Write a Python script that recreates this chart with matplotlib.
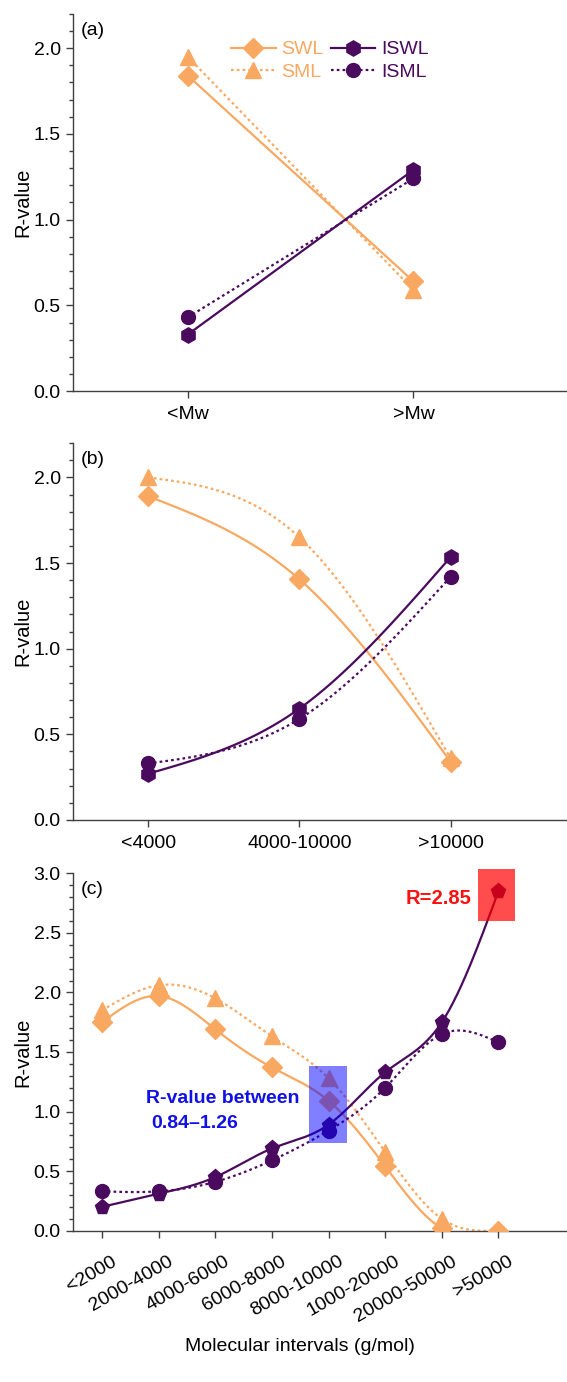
import numpy as np
import matplotlib
matplotlib.use("Agg")
from matplotlib import pyplot as plt
from matplotlib.patches import Rectangle
from matplotlib.transforms import ScaledTranslation

plt.rcParams['font.family'] = ['Liberation Sans', 'DejaVu Sans']

ORANGE = '#F9A862'
PURPLE = '#4A0A5E'

# (a) below / above Mw
cats_a = ['<Mw', '>Mw']
swl_a = [1.84, 0.64]
sml_a = [1.95, 0.59]
iswl_a = [0.33, 1.29]
isml_a = [0.43, 1.24]

# (b) three intervals
cats_b = ['<4000', '4000-10000', '>10000']
swl_b = [1.89, 1.405, 0.34]
sml_b = [2.00, 1.65, 0.36]
iswl_b = [0.27, 0.65, 1.535]
isml_b = [0.33, 0.59, 1.42]

# (c) eight intervals
cats_c = ['<2000', '2000-4000', '4000-6000', '6000-8000', '8000-10000',
          '1000-20000', '20000-50000', '>50000']
swl_c = [1.75, 1.97, 1.69, 1.37, 1.09, 0.54, 0.02, 0.0]
sml_c = [1.85, 2.06, 1.95, 1.63, 1.28, 0.66, 0.10, 0.0]
iswl_c = [0.20, 0.31, 0.45, 0.69, 0.89, 1.33, 1.75, 2.85]
isml_c = [0.33, 0.33, 0.41, 0.59, 0.84, 1.20, 1.65, 1.58]


def spline(y, n=60):
    # natural cubic spline through equally spaced points, for the drawn line only
    y = np.asarray(y, float)
    k = len(y)
    x = np.arange(k)
    if k < 3:
        return x.astype(float), y
    A = np.zeros((k, k))
    r = np.zeros(k)
    A[0, 0] = A[-1, -1] = 1
    for i in range(1, k - 1):
        A[i, i - 1:i + 2] = [1, 4, 1]
        r[i] = 6 * (y[i + 1] - 2 * y[i] + y[i - 1])
    m = np.linalg.solve(A, r)
    xs, ys = [], []
    for i in range(k - 1):
        t = np.linspace(0, 1, n)
        a = 1 - t
        s = a * y[i] + t * y[i + 1] + ((a ** 3 - a) * m[i] + (t ** 3 - t) * m[i + 1]) / 6
        xs.append(i + t)
        ys.append(s)
    return np.concatenate(xs), np.concatenate(ys)


def series(ax, vals, color, ls, marker, ms, label=None, smooth=True):
    x = np.arange(len(vals))
    if smooth:
        sx, sy = spline(vals)
    else:
        sx, sy = x, vals
    dash = (0, (1.2, 1.4)) if ls == ':' else '-'
    ax.plot(sx, sy, color=color, lw=1.6, ls=dash, zorder=2)
    ax.plot(x, vals, ls='none', marker=marker, ms=ms, color=color, zorder=3)
    if label:
        ax.plot([], [], color=color, lw=1.6, ls=dash, marker=marker, ms=ms, label=label)


def style(ax, ymax, cats, letter):
    for s in ['top', 'right']:
        ax.spines[s].set_visible(False)
    for s in ['left', 'bottom']:
        ax.spines[s].set_color('#404040')
        ax.spines[s].set_linewidth(1.0)
    ax.set_ylim(0, ymax)
    ax.set_yticks(np.arange(0, ymax + 0.01, 0.5))
    ax.set_yticks(np.arange(0, ymax + 0.01, 0.1), minor=True)
    ax.yaxis.set_major_formatter(matplotlib.ticker.FormatStrFormatter('%.1f'))
    ax.set_xticks(np.arange(len(cats)))
    ax.tick_params(axis='both', which='major', direction='out', length=5,
                   width=1, color='#404040', labelsize=14)
    ax.tick_params(axis='x', pad=6)
    ax.tick_params(axis='y', which='minor', direction='out', length=3,
                   width=1, color='#404040')
    ax.set_ylabel('R-value', fontsize=14.5)
    ax.yaxis.set_label_coords(-0.082, 0.5)
    ax.text(0.016, 0.957 if ymax < 3 else 0.955, '(%s)' % letter,
            transform=ax.transAxes, fontsize=14, va='center')


fig = plt.figure(figsize=(5.67, 13.82), dpi=100)
ax1 = fig.add_axes([0.128, 0.717, 0.872, 0.273])
ax2 = fig.add_axes([0.128, 0.4067, 0.872, 0.2726])
ax3 = fig.add_axes([0.128, 0.1095, 0.872, 0.2586])

# (a)
series(ax1, swl_a, ORANGE, '-', 'D', 10, 'SWL', smooth=False)
series(ax1, sml_a, ORANGE, ':', '^', 11, 'SML', smooth=False)
series(ax1, iswl_a, PURPLE, '-', 'h', 11, 'ISWL', smooth=False)
series(ax1, isml_a, PURPLE, ':', 'o', 10, 'ISML', smooth=False)
style(ax1, 2.2, cats_a, 'a')
ax1.set_xlim(-0.51, 1.68)
ax1.set_xticklabels(cats_a)
leg = ax1.legend(ncol=2, loc='upper left', bbox_to_anchor=(0.285, 0.975),
                 frameon=False, fontsize=14, handlelength=2.3,
                 handletextpad=0.3, columnspacing=0.35, labelspacing=0.25)
for t, c in zip(leg.get_texts(), [ORANGE, ORANGE, PURPLE, PURPLE]):
    t.set_color(c)

# (b)
series(ax2, swl_b, ORANGE, '-', 'D', 10)
series(ax2, sml_b, ORANGE, ':', '^', 11)
series(ax2, iswl_b, PURPLE, '-', 'h', 11)
series(ax2, isml_b, PURPLE, ':', 'o', 10)
style(ax2, 2.2, cats_b, 'b')
ax2.set_xlim(-0.50, 2.77)
ax2.set_xticklabels(cats_b)

# (c)
series(ax3, swl_c, ORANGE, '-', 'D', 10)
series(ax3, sml_c, ORANGE, ':', '^', 11)
series(ax3, iswl_c, PURPLE, '-', 'p', 11)
series(ax3, isml_c, PURPLE, ':', 'o', 10)
style(ax3, 3.0, cats_c, 'c')
ax3.set_xlim(-0.52, 8.21)
ax3.set_xticklabels(cats_c, rotation=30, ha='right', rotation_mode='anchor')
ax3.tick_params(axis='x', pad=11)
shift = ScaledTranslation(9 / 100, 0, fig.dpi_scale_trans)
for lab in ax3.get_xticklabels():
    lab.set_transform(lab.get_transform() + shift)
ax3.set_xlabel('Molecular intervals (g/mol)', fontsize=14)
ax3.xaxis.set_label_coords(0.46, -0.3)

ax3.add_patch(Rectangle((3.66, 0.74), 0.66, 0.64, facecolor='#0000FF',
                        alpha=0.5, edgecolor='none', zorder=4))
ax3.add_patch(Rectangle((6.63, 2.60), 0.66, 0.44, facecolor='#FF0000',
                        alpha=0.7, edgecolor='none', zorder=4, clip_on=False))
ax3.text(0.78, 1.11, 'R-value between', color='#1010E8', fontsize=14,
         fontweight='bold', va='center')
ax3.text(0.87, 0.90, '0.84\u20131.26', color='#1010E8', fontsize=14,
         fontweight='bold', va='center')
ax3.text(5.95, 2.79, 'R=2.85', color='#FF1010', fontsize=14.5,
         fontweight='bold', va='center', ha='center')

fig.savefig('out.png', dpi=100)
